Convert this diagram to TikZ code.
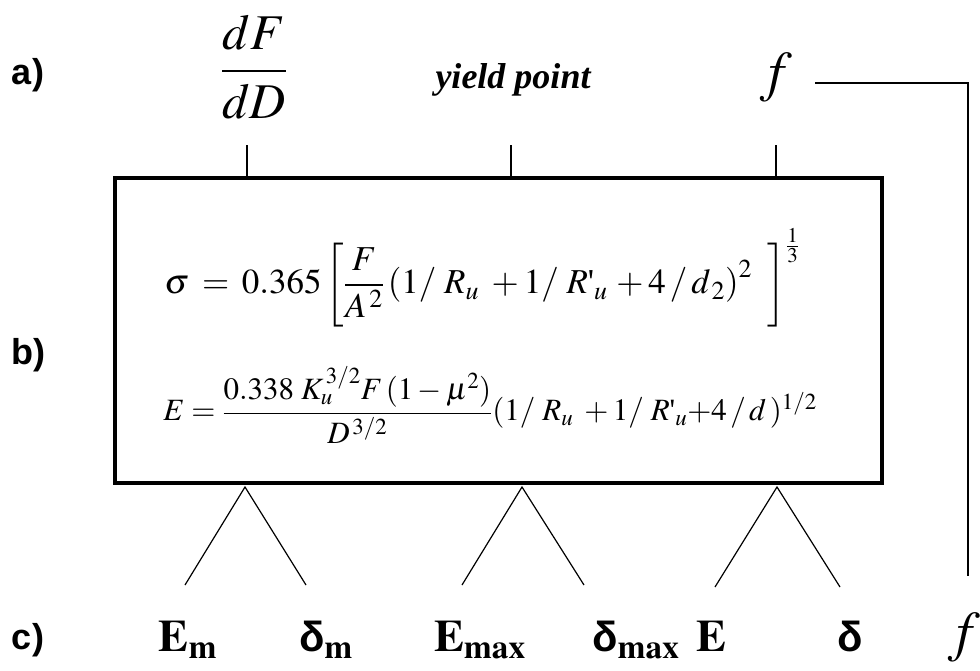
\documentclass[tikz,border=0pt]{standalone}
\usepackage{amsmath}
\usepackage{mathptmx}
\usepackage[no-math]{fontspec}
\setmainfont{Liberation Serif}
\newfontfamily\arial{Liberation Sans}
\newcommand{\rprime}{R\text{\textquotesingle}}
\tikzset{
  lbl/.style={font=\arial\bfseries\fontsize{36}{40}\selectfont},
  leg/.style={line width=1.2pt},
  bot/.style={font=\fontsize{45}{50}\selectfont},
}
\begin{document}
\begin{tikzpicture}[x=1pt,y=-1pt]
\useasboundingbox (0,0) rectangle (980,670);
% side labels
\node[lbl] (la) at (28,75) {a)};
\node[lbl] (lb) at (28,355) {b)};
\node[lbl] (lc) at (28,640) {c)};
% top labels
\node[font=\fontsize{50}{56}\selectfont] (dfd) at (254,67) {$\dfrac{dF}{dD}$};
\node[font=\bfseries\itshape\fontsize{36}{40}\selectfont] (yp) at (513,80) {yield point};
\node[font=\fontsize{56}{60}\selectfont] (ftop) at (776,78) {$f$};
% box
\node[draw, line width=4pt, minimum width=767pt, minimum height=305pt, inner sep=0pt] (box) at (498.5,330.5) {};
\node[font=\fontsize{35}{40}\selectfont] (eq1) at (482,278) {$\sigma\: = \:0.365\left[\dfrac{F}{A^{\,2}}\left(1/\;R_{u}\;+1/\;\rprime_{u}\,+4\,/\,d_{\,2}\right)^{2}\;\; \right]^{\frac{1}{3}}$};
\node[font=\fontsize{31}{35}\selectfont] (eq2) at (490,405) {$E=\dfrac{0.338\;K_{u}^{\,3/2}F\,(1-\mu^{2})}{D^{\,3/2}}(1/\;R_{u}\;+1/\;\rprime_{u}{+}4\,/\,d\,)^{1/2}$};
% top ticks
\coordinate (t1) at (247,145);
\coordinate (t2) at (511,145);
\coordinate (t3) at (776,145);
\draw[leg] (t1) -- (t1 |- box.north);
\draw[leg] (t2) -- (t2 |- box.north);
\draw[leg] (t3) -- (t3 |- box.north);
% triangles
\coordinate (a1) at (245,487);
\coordinate (a2) at (522,487);
\coordinate (a3) at (777,487);
\coordinate (l1) at (185,585); \coordinate (r1) at (306,585);
\coordinate (l2) at (462,585); \coordinate (r2) at (584,585);
\coordinate (l3) at (715,587); \coordinate (r3) at (840,587);
\draw[leg] (l1) -- (a1) -- (r1);
\draw[leg] (l2) -- (a2) -- (r2);
\draw[leg] (l3) -- (a3) -- (r3);
% bottom labels
\node[bot] (em) at (188,640) {$\mathbf{E}_{\mathbf{m}}$};
\node[bot] (dm) at (326,640) {{\arial\bfseries\fontsize{42}{46}\selectfont δ}$_{\mathbf{m}}$};
\node[bot] (emax) at (480,640) {$\mathbf{E}_{\mathbf{max}}$};
\node[bot] (dmax) at (636,640) {{\arial\bfseries\fontsize{42}{46}\selectfont δ}$_{\mathbf{max}}$};
\node[bot] (e) at (711,636) {$\mathbf{E}$};
\node[bot] (d) at (850,636) {{\arial\bfseries\fontsize{42}{46}\selectfont δ}};
\node[font=\fontsize{56}{60}\selectfont] (fbot) at (964,638) {$f$};
% right connector
\coordinate (c0) at (815,83);
\coordinate (c1) at (968,83);
\coordinate (c2) at (968,576);
\draw[leg] (c0) -- (c1) -- (c2);
\end{tikzpicture}
\end{document}
